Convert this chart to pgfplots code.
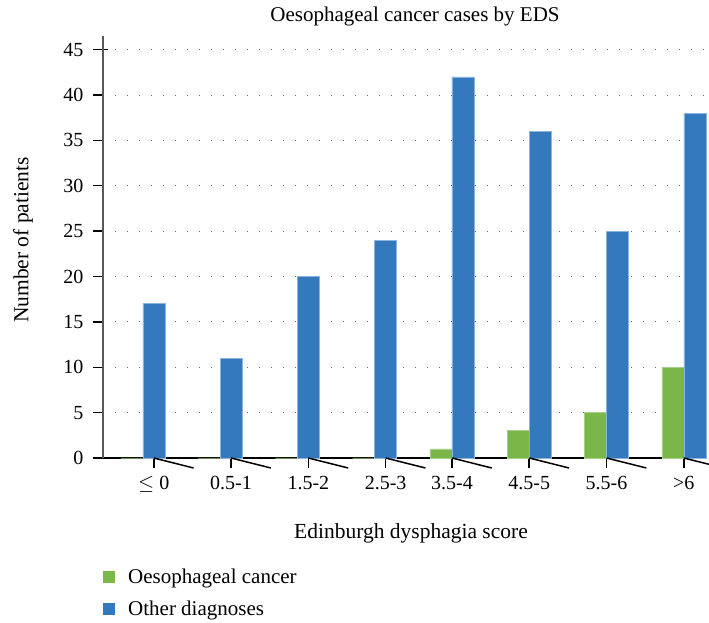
\documentclass[border=0pt]{standalone}
\usepackage{pgfplots}
\pgfplotsset{compat=1.18}
\usepackage{fontspec}
\setmainfont{Liberation Serif}
\definecolor{cgreen}{HTML}{7AB648}
\definecolor{cblue}{HTML}{3478BD}
\definecolor{cgreenE}{HTML}{A6D08A}
\definecolor{cblueE}{HTML}{8DB4DE}
\begin{document}
\begin{tikzpicture}[x=1pt,y=1pt]
\path[use as bounding box] (0,0) rectangle (709,623);
\begin{axis}[
  at={(103pt,165pt)}, anchor=south west,
  scale only axis, width=604pt, height=422pt,
  ybar=0pt, bar width=22pt, clip=false,
  xmin=-0.515, xmax=7.3, ymin=0, ymax=46.5,
  axis x line*=bottom, axis y line*=left,
  x axis line style={black, line width=1.2pt, -},
  y axis line style={black!65, line width=1.3pt, -},
  xtick={0.142,1.142,2.142,3.142,4,5,6,7},
  xticklabels={{$\leq$ 0},0.5-1,1.5-2,2.5-3,3.5-4,4.5-5,5.5-6,{>6}},
  ytick={0,5,...,45},
  xtick align=outside, ytick align=outside,
  major tick length=10pt,
  xtick style={draw=black, line width=1.5pt},
  ytick style={draw=black, line width=1.4pt, shorten >=-5pt},
  every tick label/.append style={font=\fontsize{20}{23}\selectfont},
  xticklabel style={yshift=-5pt},
  yticklabel style={xshift=-6pt},
  /pgf/number format/assume math mode=true,
  ymajorgrids,
  major grid style={black!60, line width=0.9pt, dash pattern=on 0.9pt off 11.1pt},
  legend style={at={(axis description cs:-0.005,-0.252)}, anchor=north west, draw=none, fill=none,
    row sep=12pt, font=\fontsize{21}{24}\selectfont,
    /tikz/every odd column/.append style={column sep=11pt}},
  legend cell align=left,
  legend image code/.code={\draw[#1, draw=none] (0pt,-6pt) rectangle (12pt,6pt);},
]
\addplot[fill=cgreen, draw=cgreenE, line width=0.6pt] coordinates {(0,0) (1,0) (2,0) (3,0) (4,1) (5,3) (6,5) (7,10)};
\addplot[fill=cblue, draw=cblueE, line width=0.6pt] coordinates {(0,17) (1,11) (2,20) (3,24) (4,42) (5,36) (6,25) (7,38)};
\legend{Oesophageal cancer, Other diagnoses}
\draw[black, line width=1.5pt] (axis cs:0.142,0) -- ++(0,-10pt);
\draw[black, line width=1.5pt] (axis cs:1.142,0) -- ++(0,-10pt);
\draw[black, line width=1.5pt] (axis cs:2.142,0) -- ++(0,-10pt);
\draw[black, line width=1.5pt] (axis cs:3.142,0) -- ++(0,-10pt);
\draw[black, line width=1.5pt] (axis cs:4,0) -- ++(0,-10pt);
\draw[black, line width=1.5pt] (axis cs:5,0) -- ++(0,-10pt);
\draw[black, line width=1.5pt] (axis cs:6,0) -- ++(0,-10pt);
\draw[black, line width=1.5pt] (axis cs:7,0) -- ++(0,-10pt);
\end{axis}
\node[font=\fontsize{21}{24}\selectfont] at (415,607) {Oesophageal cancer cases by EDS};
\node[font=\fontsize{21.5}{24}\selectfont] at (411,90) {Edinburgh dysphagia score};
\node[font=\fontsize{21.5}{24}\selectfont, rotate=90] at (23,383) {Number of patients};
\end{tikzpicture}
\end{document}
